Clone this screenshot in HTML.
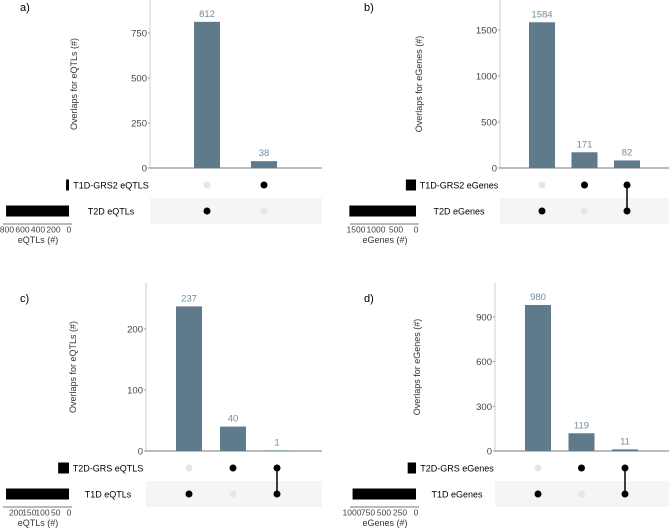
<!DOCTYPE html>
<html><head><meta charset="utf-8"><style>
body{margin:0;background:#fff}
svg{display:block;font-family:"Liberation Sans",sans-serif}
</style></head><body>
<svg id="c" width="669" height="530" viewBox="0 0 669 530"></svg>
<script>
// Panel data
const aCounts=[812,38];
const aSets=["T1D-GRS2 eQTLS","T2D eQTLs"];
const aSetSizes=[38,812];
const aYTicks=[0,250,500,750];
const aSzTicks=[800,600,400,200,0];
const bCounts=[1584,171,82];
const bSets=["T1D-GRS2 eGenes","T2D eGenes"];
const bSetSizes=[253,1666];
const bYTicks=[0,500,1000,1500];
const bSzTicks=[1500,1000,500,0];
const cCounts=[237,40,1];
const cSets=["T2D-GRS eQTLS","T1D eQTLs"];
const cSetSizes=[41,238];
const cYTicks=[0,100,200];
const cSzTicks=[200,150,100,50,0];
const dCounts=[980,119,11];
const dSets=["T2D-GRS eGenes","T1D eGenes"];
const dSetSizes=[130,991];
const dYTicks=[0,300,600,900];
const dSzTicks=[1000,750,500,250,0];
// membership: [row0, row1] for each intersection
const aMem=[[0,1],[1,0]];
const bMem=[[0,1],[1,0],[1,1]];
const cMem=[[0,1],[1,0],[1,1]];
const dMem=[[0,1],[1,0],[1,1]];

const svg=document.getElementById('c');
const NS='http://www.w3.org/2000/svg';
function mk(tag,attrs,parent,text){const e=document.createElementNS(NS,tag);for(const k in attrs)e.setAttribute(k,attrs[k]);if(text!==undefined)e.textContent=text;(parent||svg).appendChild(e);return e;}

function panel(p){
  const g=mk('g',{});
  
  
  const y=v=>p.y0-v*p.yScale;
  const lab=mk('text',{x:p.labX,y:p.labY,'font-size':11,fill:'#000'},g,p.id+')');
  
  
  const sh=mk('rect',{x:p.ax,y:p.row1-13,width:p.right-p.ax,height:26,fill:'#f5f5f5'},g);
  
  
  mk('line',{x1:p.ax,y1:p.yTop,x2:p.ax,y2:p.y0,stroke:'#d6d6d6','stroke-width':1.2},g);
  mk('line',{x1:p.ax,y1:p.y0,x2:p.right,y2:p.y0,stroke:'#777','stroke-width':1},g);
  p.ticks.forEach(t=>{
    mk('line',{x1:p.ax-2,y1:y(t),x2:p.ax,y2:y(t),stroke:'#999'},g);
    const tx=mk('text',{x:p.ax-3,y:y(t)+3.5,'font-size':9.5,fill:'#444','text-anchor':'end'},g,t);
    
    
  });
  const yt=mk('text',{x:0,y:0,'font-size':9,fill:'#333','text-anchor':'middle',transform:`translate(${p.titleX},${(p.yTop+p.y0)/2}) rotate(-90)`},g,p.yTitle);
  
  
  p.counts.forEach((v,i)=>{
    const cx=p.bx0+i*p.bstep;
    const r=mk('rect',{x:cx-13,y:y(v),width:26,height:p.y0-y(v),fill:'#5f7a8b'},g);
    
    
    const t=mk('text',{x:cx,y:y(v)-5,'font-size':9.5,fill:'#6f8ea3','text-anchor':'middle'},g,v);
    
    
    const m=p.mem[i];
    const rows=[p.row0,p.row1];
    if(m[0]&&m[1]) mk('line',{x1:cx,y1:p.row0,x2:cx,y2:p.row1,stroke:'#000','stroke-width':1.5},g);
    m.forEach((on,j)=>{
      const d=mk('circle',{cx:cx,cy:rows[j],r:3.5,fill:on?'#000':'#e6e6e6'},g);
      
      
    });
  });
  const sx=v=>p.sz0-v*p.szScale;
  const rows=[p.row0,p.row1];
  p.sets.forEach((s,j)=>{
    const w=p.sizes[j]*p.szScale;
    const r=mk('rect',{x:p.sz0-w,y:rows[j]-5.5,width:w,height:11,fill:'#000'},g);
    
    
    const t=mk('text',{x:p.setLabX,y:rows[j]+3.5,'font-size':9,fill:'#000','text-anchor':'middle'},g,s);
    
    
  });
  const axY=p.row1+13;
  mk('line',{x1:p.sz0-p.szLen,y1:axY,x2:p.sz0+3,y2:axY,stroke:'#777'},g);
  p.szTicks.forEach(t=>{
    const tx=mk('text',{x:sx(t),y:axY+8.5,'font-size':8.5,fill:'#444','text-anchor':'middle'},g,t);
    
    
  });
  const st=mk('text',{x:p.sz0-p.szLen/2+2,y:axY+19,'font-size':9,fill:'#333','text-anchor':'middle'},g,p.szTitle);
  
  
}

panel({id:'a',counts:aCounts,sets:aSets,sizes:aSetSizes,ticks:aYTicks,szTicks:aSzTicks,mem:aMem,
  labX:20,labY:11,ax:150,yTop:0,y0:168,yScale:45/250,right:322,bx0:207,bstep:57,row0:185,row1:211,
  titleX:77,yTitle:'Overlaps for eQTLs (#)',sz0:69,szScale:62/800,szLen:66,setLabX:111,szTitle:'eQTLs (#)'});
panel({id:'b',counts:bCounts,sets:bSets,sizes:bSetSizes,ticks:bYTicks,szTicks:bSzTicks,mem:bMem,
  labX:364,labY:11,ax:500,yTop:0,y0:168,yScale:46/500,right:669,bx0:542,bstep:42.5,row0:185,row1:211,
  titleX:422,yTitle:'Overlaps for eGenes (#)',sz0:416,szScale:60/1500,szLen:66,setLabX:459,szTitle:'eGenes (#)'});
panel({id:'c',counts:cCounts,sets:cSets,sizes:cSetSizes,ticks:cYTicks,szTicks:cSzTicks,mem:cMem,
  labX:20,labY:302,ax:146,yTop:283,y0:451,yScale:61/100,right:322,bx0:189,bstep:44,row0:468,row1:494,
  titleX:76,yTitle:'Overlaps for eQTLs (#)',sz0:69,szScale:63/238,szLen:66,setLabX:108,szTitle:'eQTLs (#)'});
panel({id:'d',counts:dCounts,sets:dSets,sizes:dSetSizes,ticks:dYTicks,szTicks:dSzTicks,mem:dMem,
  labX:364,labY:302,ax:495,yTop:283,y0:451,yScale:44.7/300,right:669,bx0:538,bstep:43.5,row0:468,row1:494,
  titleX:420,yTitle:'Overlaps for eGenes (#)',sz0:416,szScale:64/1000,szLen:66,setLabX:457,szTitle:'eGenes (#)'});
</script>
</body></html>
